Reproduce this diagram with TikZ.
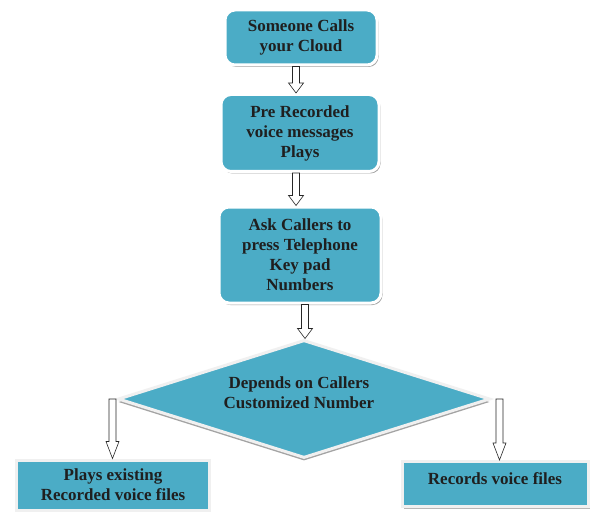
\documentclass[tikz,border=0pt]{standalone}
\usepackage{fontspec}
\setmainfont{Liberation Serif}
\usetikzlibrary{shapes.geometric,shadows,calc}
\definecolor{tealfill}{HTML}{4BACC6}
\newcommand\blkarrow[4]{%
  \draw[blkarrow] let \p1=(#1), \p2=(#2) in
    (\x1-3.5pt,\y1) -- (\x1-3.5pt,\y2+#3) -- (\x1-#4,\y2+#3) -- (\x1,\y2)
    -- (\x1+#4,\y2+#3) -- (\x1+3.5pt,\y2+#3) -- (\x1+3.5pt,\y1) -- cycle;}
\begin{document}
\begin{tikzpicture}[x=1pt,y=-1pt,
  txt/.style={align=center, font=\fontsize{17}{20}\selectfont\bfseries, text=black!88, inner sep=0pt},
  rbox/.style={txt, rounded corners=10pt, fill=tealfill, draw=white, line width=3pt,
    drop shadow={shadow xshift=1.5pt, shadow yshift=-2pt, fill=black!45, opacity=0.8}},
  sbox/.style={txt, fill=tealfill, draw=black!6, line width=3pt,
    drop shadow={shadow xshift=1.5pt, shadow yshift=-2pt, fill=black!35, opacity=0.8}},
  dec/.style={txt, diamond, fill=tealfill, draw=black!6, line width=3pt,
    drop shadow={shadow xshift=0pt, shadow yshift=-3pt, fill=black!45, opacity=0.8}},
  blkarrow/.style={draw=black!85, fill=white, line width=0.6pt}]
\useasboundingbox[fill=white] (0,0) rectangle (592,516);
\node[rbox, minimum width=152, minimum height=55] (b1) at (301,37.5) {Someone Calls\\your Cloud};
\node[rbox, minimum width=158, minimum height=77] (b2) at (300,133) {Pre Recorded\\voice messages\\Plays};
\node[rbox, minimum width=162, minimum height=96] (b3) at (300,255) {Ask Callers to\\press Telephone\\Key pad\\Numbers};
\node[dec, minimum width=372, minimum height=118] (d) at (304,399) {};
\node[txt] (dt) at (299,393) {Depends on Callers\\Customized Number};
\node[sbox, minimum width=193, minimum height=50] (l) at (113,485) {Plays existing\\Recorded voice files};
\node[sbox, minimum width=186, minimum height=45] (r) at (495,484) {\raisebox{11pt}{Records voice files}};
\blkarrow{[xshift=-5pt]b1.south}{b2.north}{10pt}{7.5pt}
\blkarrow{[xshift=-4pt]b2.south}{b3.north}{10pt}{7.5pt}
\blkarrow{[xshift=5pt]b3.south}{d.north}{10pt}{7.5pt}
\blkarrow{[xshift=-4pt]d.west}{[xshift=1pt]l.north}{17pt}{6.5pt}
\blkarrow{[xshift=8pt]d.east}{[xshift=3pt]r.north}{17pt}{6.5pt}
\end{tikzpicture}
\end{document}
